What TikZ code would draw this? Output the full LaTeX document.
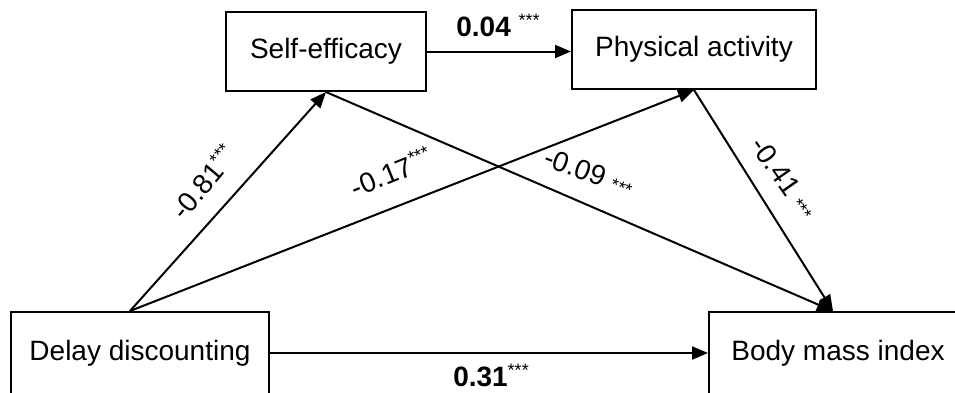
\documentclass[tikz,border=0pt]{standalone}
\usepackage{fontspec}
\setmainfont{Liberation Sans}
\usetikzlibrary{arrows.meta}
\newcommand\mystars[1]{\raisebox{#1}{\fontsize{18}{18}\selectfont ***}}
\begin{document}
\begin{tikzpicture}[x=1pt,y=-1pt,
  box/.style={draw, line width=2pt, minimum height=79pt, inner sep=0pt,
    font=\fontsize{28}{33}\selectfont},
  conn/.style={line width=2pt, -{Triangle[length=16pt,width=13pt]}},
  lab/.style={font=\fontsize{28}{33}\selectfont, inner sep=0pt},
  ]
\useasboundingbox (0,0) rectangle (955,392);
\clip (0,0) rectangle (955,392);
\node[box, minimum width=200pt] (se) at (326,51.5) {Self-efficacy};
\node[box, minimum width=244pt] (pa) at (694,49.5) {Physical activity};
\node[box, minimum width=258pt, minimum height=82pt] (dd) at (140,353) {Delay discounting};
\node[box, minimum width=258pt, minimum height=82pt] (bmi) at (838,353) {Body mass index};
\coordinate (ddtop) at ([xshift=-10pt]dd.north);
\coordinate (bmitop) at ([xshift=-5pt]bmi.north);
\draw[conn] (ddtop) -- (se.south);
\draw[conn] (ddtop) -- (pa.south);
\draw[conn] (se.south) -- (bmitop);
\draw[conn] (pa.south) -- (bmitop);
\draw[conn] (se.east) -- (se.east -| pa.west);
\draw[conn] (dd.east) -- (bmi.west);
\node[lab] (l04) at (498,25) {\textbf{0.04} \mystars{10pt}};
\node[lab] (l31) at (491,375) {\textbf{0.31}\mystars{10pt}};
\node[lab, rotate=50] (l81) at (203,182) {-0.81\mystars{10pt}};
\node[lab, rotate=22] (l17) at (391,172) {-0.17\mystars{10pt}};
\node[lab, rotate=-20] (l09) at (589,172) {-0.09 \mystars{0pt}};
\node[lab, rotate=-55] (l41) at (784,178) {-0.41 \mystars{0pt}};
\end{tikzpicture}
\end{document}
